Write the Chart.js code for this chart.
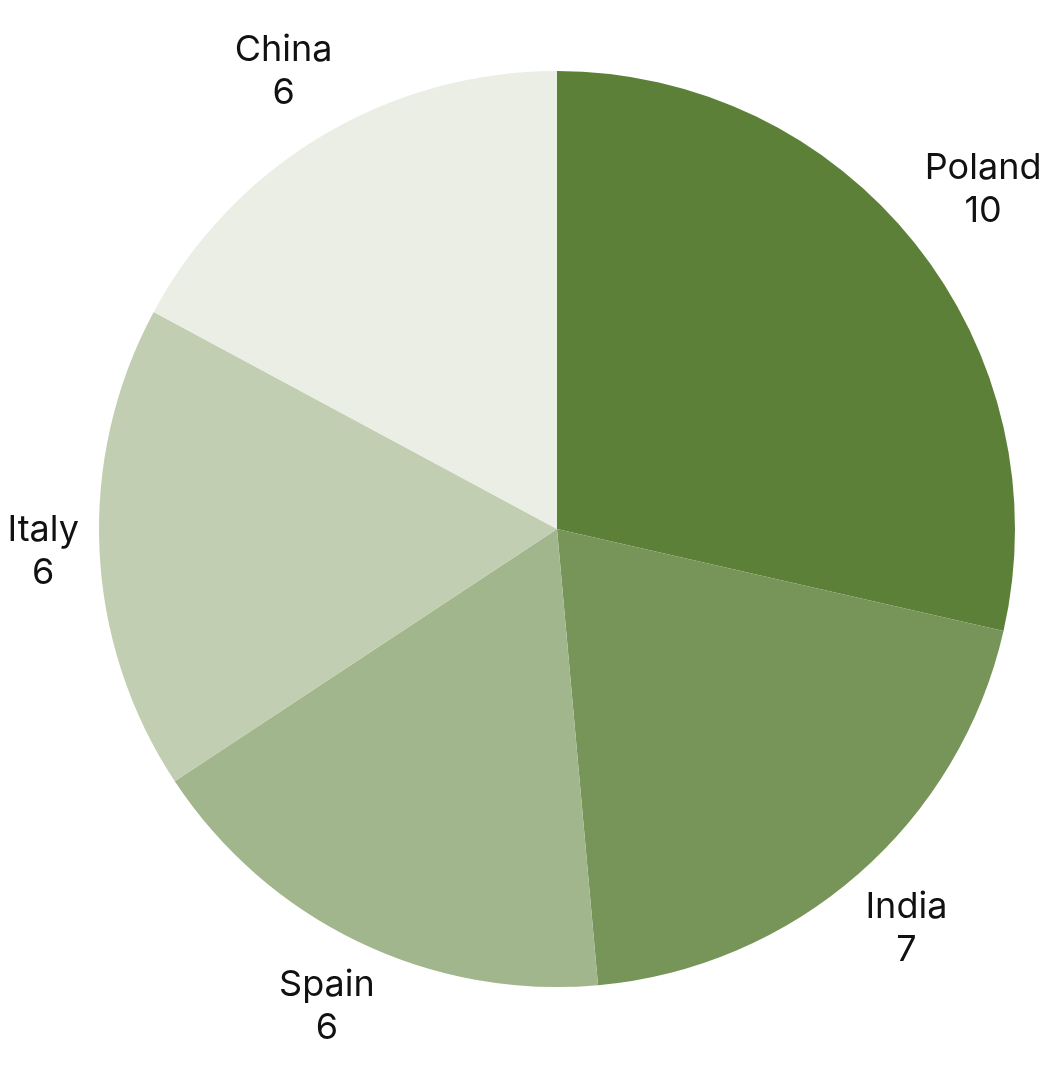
<!DOCTYPE html>
<html>
<head>
<meta charset="utf-8">
<script src="https://cdn.jsdelivr.net/npm/chart.js@4.4.1/dist/chart.umd.min.js"></script>
<style>
  html, body { margin: 0; padding: 0; background: #ffffff; }
  #wrap { width: 1058px; height: 1080px; }
</style>
</head>
<body>
<div id="wrap"><canvas id="pie-chart" width="1058" height="1080"></canvas></div>
<script>
/* global Chart */
const countries = ['Poland', 'India', 'Spain', 'Italy', 'China'];
const counts = [10, 7, 6, 6, 6];
const sliceColors = ['#5c8038', '#779558', '#a2b68d', '#c1ceb1', '#eaeee5'];

// draws "name / value" outside each slice, using the arc geometry from Chart.js
const outerLabels = {
    id: 'outerLabels',
    afterDatasetsDraw(chart) {
        const ctx = chart.ctx;
        const meta = chart.getDatasetMeta(0);
        const lineGap = 43;
        const halfH = 36;
        ctx.save();
        ctx.font = '36px Inter';
        ctx.fillStyle = '#111111';
        ctx.textAlign = 'center';
        ctx.textBaseline = 'middle';
        meta.data.forEach((arc, i) => {
            const p = arc.getProps(['x', 'y', 'startAngle', 'endAngle', 'outerRadius'], true);
            const mid = (p.startAngle + p.endAngle) / 2;
            const cos = Math.cos(mid);
            const sin = Math.sin(mid);
            const name = countries[i];
            const value = String(counts[i]);
            const halfW = Math.max(ctx.measureText(name).width, ctx.measureText(value).width) / 2;
            // push the label box out until its edge clears the pie
            const r = p.outerRadius + 19 + halfW * Math.abs(cos) + halfH * Math.abs(sin);
            const cx = p.x + cos * r;
            const cy = p.y + sin * r;
            ctx.fillText(name, cx, cy - lineGap / 2);
            ctx.fillText(value, cx, cy + lineGap / 2);
        });
        ctx.restore();
    }
};

const ctx = document.getElementById('pie-chart').getContext('2d');
new Chart(ctx, {
    type: 'pie',
    data: {
        labels: countries,
        datasets: [{
            data: counts,
            backgroundColor: sliceColors,
            borderWidth: 0
        }]
    },
    options: {
        responsive: false,
        animation: false,
        layout: { padding: { left: 99, right: 43, top: 71, bottom: 93 } },
        plugins: {
            legend: { display: false },
            tooltip: { enabled: false }
        }
    },
    plugins: [outerLabels]
});
</script>
</body>
</html>
